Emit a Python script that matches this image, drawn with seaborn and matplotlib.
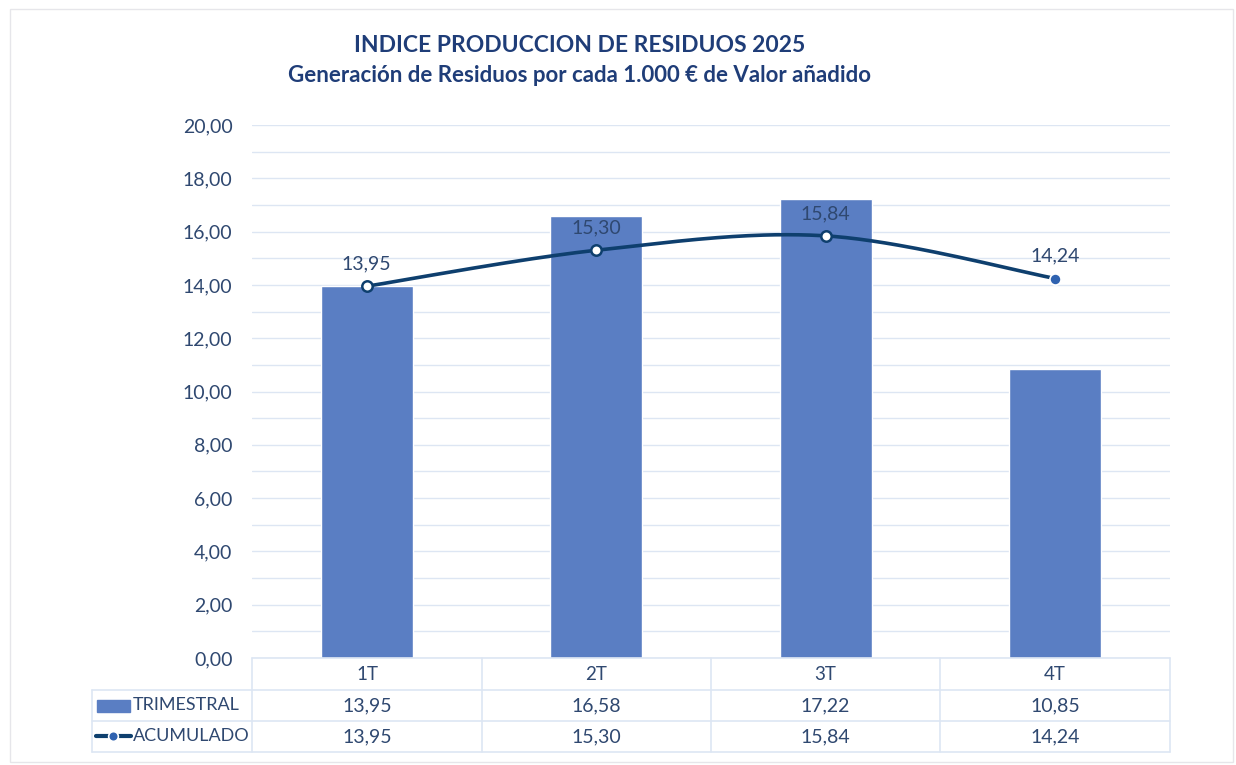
import numpy as np
import pandas as pd
import matplotlib
matplotlib.use("Agg")
import matplotlib.pyplot as plt
import seaborn as sns
from matplotlib.lines import Line2D
from matplotlib.patches import Rectangle

# =========================
# DATA
# =========================
quarters = ["1T", "2T", "3T", "4T"]
trimestral = [13.95, 16.58, 17.22, 10.85]
acumulado = [13.95, 15.30, 15.84, 14.24]

title = "INDICE PRODUCCION DE RESIDUOS 2025"
subtitle = "Generación de Residuos por cada 1.000 € de Valor añadido"


def fmt(v):
    return f"{v:.2f}".replace(".", ",")


# =========================
# STYLE
# =========================
sns.set_theme(style="white")
plt.rcParams["font.family"] = ["Lato", "DejaVu Sans"]

BAR = "#5a7ec3"
LINE = "#0e3f6e"
GRID = "#dde6f3"
TXT = "#2f4870"
TITLE = "#1f3d78"

W, H = 1236, 765
fig = plt.figure(figsize=(W / 100, H / 100), dpi=100)


def fx(px):
    return px / W


def fy(py):
    return 1 - py / H


# plot area in pixels
x0, x1, ytop, ybot = 252, 1170, 125, 658
ax = fig.add_axes([fx(x0), fy(ybot), fx(x1) - fx(x0), fy(ytop) - fy(ybot)])

df = pd.DataFrame({"q": quarters, "v": trimestral})
sns.barplot(data=df, x="q", y="v", color=BAR, width=0.4, saturation=1, ax=ax, zorder=2)

# smoothed line (Excel-style bezier through the points)
xs = np.arange(len(acumulado), dtype=float)
ys = np.array(acumulado)
cx, cy = [], []
t = np.linspace(0, 1, 60)
for i in range(len(xs) - 1):
    p0 = np.array([xs[i], ys[i]])
    p3 = np.array([xs[i + 1], ys[i + 1]])
    pm = np.array([xs[max(i - 1, 0)], ys[max(i - 1, 0)]])
    pp = np.array([xs[min(i + 2, len(xs) - 1)], ys[min(i + 2, len(xs) - 1)]])
    c1 = p0 + (p3 - pm) / 6
    c2 = p3 - (pp - p0) / 6
    seg = ((1 - t) ** 3)[:, None] * p0 + (3 * (1 - t) ** 2 * t)[:, None] * c1 \
        + (3 * (1 - t) * t ** 2)[:, None] * c2 + (t ** 3)[:, None] * p3
    cx.extend(seg[:, 0])
    cy.extend(seg[:, 1])
ax.plot(cx, cy, color=LINE, lw=2.6, zorder=3, solid_capstyle="round")

for i, v in enumerate(acumulado):
    if i < 3:
        ax.plot(i, v, "o", ms=7.5, mfc="white", mec=LINE, mew=1.8, zorder=4)
    else:
        ax.plot(i, v, "o", ms=8, mfc="#2f62b0", mec="white", mew=1.2, zorder=4)
    ax.annotate(fmt(v), (i, v), xytext=(0, 10), textcoords="offset points",
                ha="center", va="bottom", fontsize=14, color=TXT, zorder=5)

ax.set_xlim(-0.5, 3.5)
ax.set_ylim(0, 20)
ax.set_yticks(np.arange(0, 21, 2))
ax.set_yticks(np.arange(0, 21, 1), minor=True)
ax.set_yticklabels([fmt(v) for v in np.arange(0, 21, 2)], fontsize=14, color=TXT)
ax.tick_params(axis="y", which="both", length=0, pad=14)
ax.set_xticks([])
ax.set_xlabel("")
ax.set_ylabel("")
ax.grid(axis="y", which="both", color=GRID, lw=1, zorder=0)
ax.set_axisbelow(True)
for s in ax.spines.values():
    s.set_visible(False)

# =========================
# TITLES
# =========================
fig.text(fx(580), fy(45), title, ha="center", va="center", fontsize=16.5,
         fontweight="bold", color=TITLE)
fig.text(fx(580), fy(75), subtitle, ha="center", va="center", fontsize=16,
         fontweight="bold", color=TITLE)

# outer frame
fig.add_artist(Rectangle((fx(10), fy(762)), fx(1233) - fx(10), fy(9) - fy(762),
                         transform=fig.transFigure, fill=False, ec="#e6e6ea", lw=1))

# =========================
# DATA TABLE
# =========================
cols = [252, 482, 711, 940, 1170]
rows = [658, 690, 721, 752]
left = 92


def hline(xa, xb, y):
    fig.add_artist(Line2D([fx(xa), fx(xb)], [fy(y), fy(y)], color=GRID, lw=1.2,
                          transform=fig.transFigure))


def vline(x, ya, yb):
    fig.add_artist(Line2D([fx(x), fx(x)], [fy(ya), fy(yb)], color=GRID, lw=1.2,
                          transform=fig.transFigure))


hline(cols[0], cols[-1], rows[0])
for y in rows[1:]:
    hline(left, cols[-1], y)
for x in cols:
    vline(x, rows[0], rows[-1])
vline(left, rows[1], rows[-1])

for i, q in enumerate(quarters):
    xc = (cols[i] + cols[i + 1]) / 2
    fig.text(fx(xc), fy((rows[0] + rows[1]) / 2), q, ha="center", va="center",
             fontsize=13.5, color=TXT)
    fig.text(fx(xc), fy((rows[1] + rows[2]) / 2), fmt(trimestral[i]), ha="center",
             va="center", fontsize=14, color=TXT)
    fig.text(fx(xc), fy((rows[2] + rows[3]) / 2), fmt(acumulado[i]), ha="center",
             va="center", fontsize=14, color=TXT)

# legend keys
fig.add_artist(Rectangle((fx(97), fy(712)), fx(130) - fx(97), fy(700) - fy(712),
                         transform=fig.transFigure, color=BAR))
fig.add_artist(Line2D([fx(96), fx(131)], [fy(736), fy(736)], color=LINE, lw=3,
                      transform=fig.transFigure))
fig.add_artist(Line2D([fx(113)], [fy(736)], marker="o", ms=7, color="#2f62b0",
                      mec="white", mew=1.2, transform=fig.transFigure))
fig.text(fx(133), fy(705), "TRIMESTRAL", ha="left", va="center", fontsize=13, color=TXT)
fig.text(fx(133), fy(736), "ACUMULADO", ha="left", va="center", fontsize=13, color=TXT)

fig.savefig("out.png", dpi=100, facecolor="white")
